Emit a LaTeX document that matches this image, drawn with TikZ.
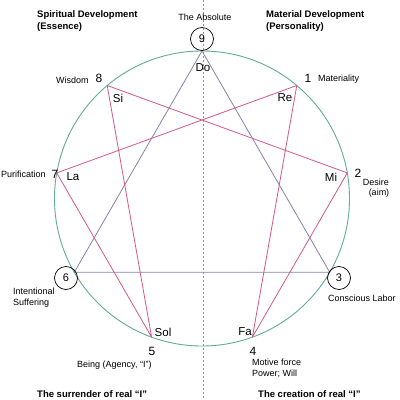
\documentclass[tikz,border=0pt]{standalone}
\usepackage{fontspec}
\setmainfont{Liberation Sans}
\definecolor{ring}{RGB}{100,172,145}
\definecolor{pinkl}{RGB}{212,88,140}
\definecolor{trig}{RGB}{135,130,172}
\definecolor{axisc}{RGB}{222,110,125}
\tikzset{
  lbl/.style={inner sep=0pt,font=\fontsize{9}{11}\selectfont},
  head/.style={inner sep=0pt,align=left,font=\fontsize{9.5}{12}\selectfont\bfseries},
  note/.style={inner sep=0pt,font=\fontsize{11.5}{13}\selectfont},
  num/.style={inner sep=0pt,font=\fontsize{12}{14}\selectfont},
  cnum/.style={circle,draw=black,line width=0.7pt,minimum size=23pt,inner sep=0pt,font=\fontsize{11}{13}\selectfont},
}
\begin{document}
\begin{tikzpicture}[x=1pt,y=-1pt]
\useasboundingbox[fill=white] (0,0) rectangle (400,400);
% axis
\coordinate (atop) at (203,0);
\coordinate (abot) at (203,400);
\draw[axisc,line width=0.7pt,dash pattern=on 2pt off 2pt] (atop) -- (abot);
% circle
\coordinate (c) at (202,198.5);
\draw[ring,line width=0.9pt] (c) circle[radius=147.5pt];
% points
\coordinate (p9) at (202,51);
\coordinate (p1) at (296.8,85.5);
\coordinate (p2) at (347.3,172.9);
\coordinate (p3) at (329.7,272.2);
\coordinate (p4) at (252.4,337.1);
\coordinate (p5) at (151.6,337.1);
\coordinate (p6) at (74.3,272.2);
\coordinate (p7) at (56.7,172.9);
\coordinate (p8) at (107.2,85.5);
% triangle
\draw[trig,line width=0.8pt,line join=round] (p9) -- (p3) -- (p6) -- cycle;
% hexad
\draw[pinkl,line width=0.8pt,line join=round] (p1) -- (p4) -- (p2) -- (p8) -- (p5) -- (p7) -- cycle;
% circled numbers
\node[cnum] (n9) at (202,39) {9};
\node[cnum] (n6) at (66,278) {6};
\node[cnum] (n3) at (339,278) {3};
% headings
\node[head,anchor=north west] (hs) at (37,10) {Spiritual Development\\(Essence)};
\node[head,anchor=north west] (hm) at (266,10) {Material Development\\(Personality)};
\node[lbl] (abs) at (205,17) {The Absolute};
% notes
\node[note] (do) at (203,68) {Do};
\node[note] (si) at (118,98) {Si};
\node[note] (re) at (285,98) {Re};
\node[note] (la) at (73,177) {La};
\node[note] (mi) at (331,177) {Mi};
\node[note] (sol) at (163,332) {Sol};
\node[note] (fa) at (245,332) {Fa};
% numbers and labels
\node[lbl,anchor=west] (wis) at (56,80) {Wisdom};
\node[num] (n8) at (99,78) {8};
\node[num] (n1) at (308,78) {1};
\node[lbl,anchor=west] (mat) at (318,79) {Materiality};
\node[lbl,anchor=west] (pur) at (1,174) {Purification};
\node[num] (n7) at (55,174) {7};
\node[num] (n2) at (358,173) {2};
\node[lbl] (des) at (376,182) {Desire};
\node[lbl] (aim) at (379,193) {(aim)};
\node[lbl,anchor=north west,align=left] (int) at (13,288) {Intentional\\Suffering};
\node[lbl,anchor=west] (con) at (328,298) {Conscious Labor};
\node[num] (n5) at (152,351) {5};
\node[num] (n4) at (253,351) {4};
\node[lbl,anchor=west] (bei) at (77,365) {Being (Agency, “I”)};
\node[lbl,anchor=north west,align=left] (mot) at (252,359) {Motive force\\Power; Will};
% bottom headings
\node[head,anchor=south west] (sur) at (37,398) {The surrender of real “I”};
\node[head,anchor=south west] (cre) at (258,398) {The creation of real “I”};
\end{tikzpicture}
\end{document}
